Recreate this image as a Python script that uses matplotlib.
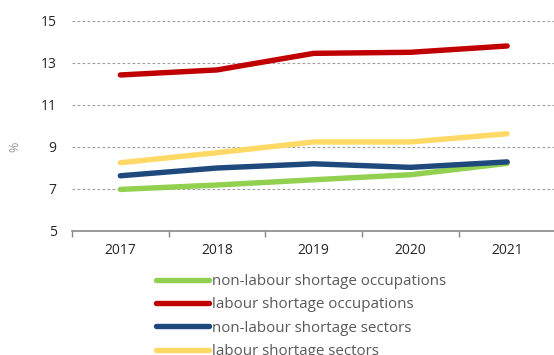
import matplotlib
matplotlib.use('Agg')
import matplotlib.pyplot as plt

# data
years = ['2017', '2018', '2019', '2020', '2021']
non_lab_occ = [6.98, 7.19, 7.44, 7.68, 8.22]
lab_occ = [12.43, 12.67, 13.46, 13.51, 13.81]
non_lab_sec = [7.63, 8.0, 8.2, 8.03, 8.29]
lab_sec = [8.25, 8.73, 9.24, 9.24, 9.63]

labels = ['non-labour shortage occupations', 'labour shortage occupations',
          'non-labour shortage sectors', 'labour shortage sectors']
colors = ['#92D050', '#C00000', '#1F497D', '#FFD966']
series = [non_lab_occ, lab_occ, non_lab_sec, lab_sec]

plt.rcParams['font.family'] = ['Open Sans', 'DejaVu Sans']

fig = plt.figure(figsize=(5.54, 3.55), dpi=100)
ax = fig.add_axes([72/554, 1-231/355, (555.5-72)/554, 210/355])

x = range(len(years))
for vals, col, lab in zip(series, colors, labels):
    ax.plot(x, vals, color=col, lw=3.9, label=lab, solid_capstyle='round', solid_joinstyle='round')

ax.set_ylim(5, 15)
ax.set_yticks([5, 7, 9, 11, 13, 15])
ax.set_xlim(-0.5, 4.5)
ax.set_xticks(list(x))
ax.set_xticklabels(years)
ax.set_xticks([-0.5, 0.5, 1.5, 2.5, 3.5, 4.5], minor=True)
ax.tick_params(axis='x', which='major', length=0, pad=9, labelsize=10, labelcolor='#262626')
ax.tick_params(axis='x', which='minor', length=4, width=1, color='#888888', direction='out')
ax.tick_params(axis='y', length=0, pad=11, labelsize=10, labelcolor='#262626')

ax.yaxis.grid(True, linestyle=(0, (2.5, 2)), color='#A0A0A0', lw=0.8)
ax.set_axisbelow(True)
for s in ['top', 'right', 'left']:
    ax.spines[s].set_visible(False)
ax.spines['bottom'].set_color('#888888')
ax.spines['bottom'].set_linewidth(1.2)

ax.set_ylabel('%', color='#999999', fontsize=9)
ax.yaxis.set_label_coords(-0.105, 0.4)

fig.legend(loc='upper left', bbox_to_anchor=(156/554, 1-274/355), frameon=False,
           fontsize=10.9, handlelength=3.5, handletextpad=0.2, labelspacing=0.55,
           borderpad=0, borderaxespad=0, labelcolor='#595959')

fig.savefig('out.png', dpi=100)
